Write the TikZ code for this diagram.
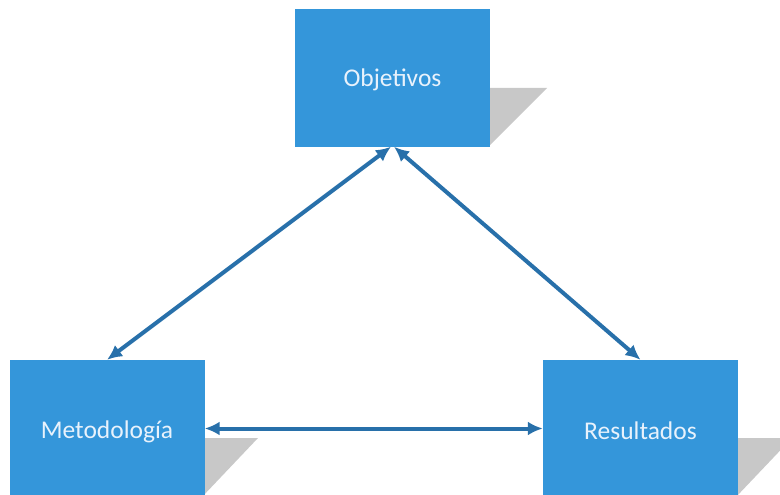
\documentclass[tikz,border=0pt]{standalone}
\usepackage{fontspec}
\setmainfont{Carlito}
\usetikzlibrary{arrows.meta}
\definecolor{boxblue}{RGB}{52,150,218}
\definecolor{arrblue}{RGB}{40,112,170}
\definecolor{shadowgray}{RGB}{200,200,200}
\definecolor{txt}{RGB}{232,242,252}
\tikzset{
  box/.style={fill=boxblue, draw=none, minimum width=195pt, minimum height=137pt, inner sep=0pt,
    text=txt, font=\fontsize{25.5}{30}\selectfont},
  arr/.style={draw=arrblue, line width=4pt, {Latex[length=15pt,width=14pt]}-{Latex[length=15pt,width=14pt]}},
  shade/.style={fill=shadowgray, draw=none}
}
\begin{document}
\begin{tikzpicture}[x=1pt,y=-1pt]
\useasboundingbox (0,0) rectangle (780,495);
% shadows
\fill[shade] (488,88) -- (547,88) -- (488,147) -- cycle;
\fill[shade] (202,438) -- (258,438) -- (202,497) -- cycle;
\fill[shade] (736,438) -- (792,438) -- (736,497) -- cycle;
% boxes
\node[box] (obj) at (392.5,78) {};
\node[box] (met) at (107,428.5) {};
\node[box] (res) at (640.5,428.5) {};
\node[text=txt, font=\fontsize{25.5}{30}\selectfont] (objt) at (392.5,80) {Objetivos};
\node[text=txt, font=\fontsize{25.5}{30}\selectfont] (mett) at (107,432) {Metodología};
\node[text=txt, font=\fontsize{25.5}{30}\selectfont] (rest) at (640.5,431) {Resultados};
% connectors
\draw[arr] ([xshift=-1.5pt]obj.south) -- (met.north);
\draw[arr] ([xshift=1.5pt]obj.south) -- (res.north);
\draw[arr] (met.east) -- (res.west);
\end{tikzpicture}
\end{document}
